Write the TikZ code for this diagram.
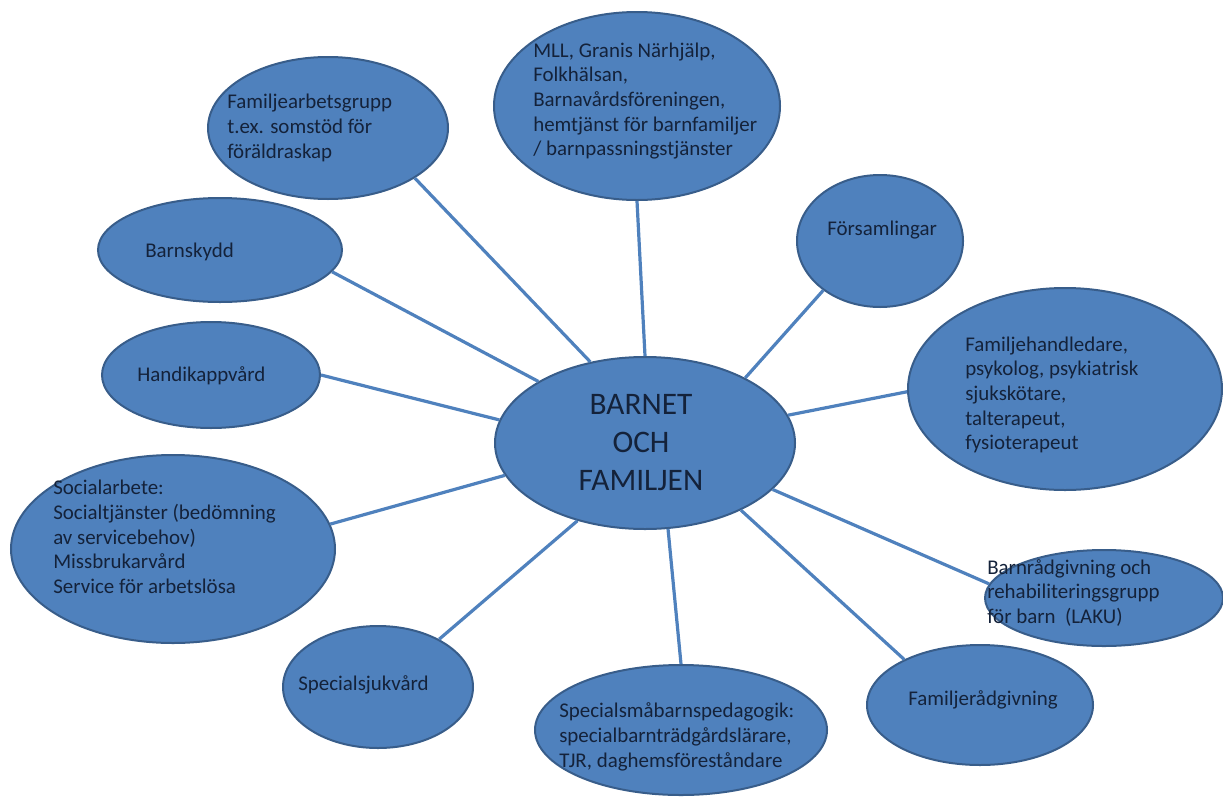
\documentclass[tikz,border=0pt]{standalone}
\usepackage{fontspec}
\setmainfont{Carlito}
\usetikzlibrary{shapes.geometric}

\definecolor{bubblefill}{HTML}{4F81BD}
\definecolor{bubblerim}{HTML}{385D8A}
\definecolor{spokeblue}{HTML}{4F81BD}
\definecolor{ink}{HTML}{14223A}

\tikzset{
  bubble/.style={ellipse,draw=bubblerim,line width=1.5pt,fill=bubblefill,inner sep=0pt},
  txt/.style={anchor=west,align=left,inner sep=0pt,text=ink,font=\fontsize{15.7}{18.5}\selectfont},
  spoke/.style={draw=spokeblue,line width=2.4pt}
}

\begin{document}
\begin{tikzpicture}[x=0.75pt,y=-0.75pt]
\useasboundingbox (0,0) rectangle (1223,796);

\node[bubble,minimum width=225pt,minimum height=129pt] (kern) at (645,443) {};
\node[bubble,minimum width=180pt,minimum height=106.5pt] (fam) at (328,128) {};
\node[bubble,minimum width=183pt,minimum height=78pt] (skydd) at (220,250) {};
\node[bubble,minimum width=214.5pt,minimum height=141pt] (mll) at (637,106) {};
\node[bubble,minimum width=124.5pt,minimum height=99pt] (fors) at (880,241) {};
\node[bubble,minimum width=235.5pt,minimum height=151.5pt] (handl) at (1065,389) {};
\node[bubble,minimum width=163.5pt,minimum height=79.5pt] (handi) at (211,375) {};
\node[bubble,minimum width=243pt,minimum height=141pt] (social) at (173,549) {};
\node[bubble,minimum width=142.5pt,minimum height=91.5pt] (sjuk) at (378,687) {};
\node[bubble,minimum width=219pt,minimum height=97.5pt] (spec) at (681,730) {};
\node[bubble,minimum width=169.5pt,minimum height=90pt] (radg) at (980,705) {};
\node[bubble,minimum width=178.5pt,minimum height=72pt] (barnr) at (1104,598) {};

\draw[spoke] (fam.-30) -- (kern.124);
\draw[spoke] (skydd.-11) -- (kern.150);
\draw[spoke] (mll.-90) -- (kern.90);
\draw[spoke] (fors.-139) -- (kern.33);
\draw[spoke] (handl.181) -- (kern.11);
\draw[spoke] (handi.0) -- (kern.171);
\draw[spoke] (social.9) -- (kern.193);
\draw[spoke] (sjuk.38) -- (kern.-131);
\draw[spoke] (spec.90) -- (kern.-75);
\draw[spoke] (radg.149) -- (kern.-35);
\draw[spoke] (barnr.173) -- (kern.-20);

\node[inner sep=0pt,align=center,text=ink,font=\fontsize{23.5}{28.5}\selectfont] (kerntxt) at (641,443) {BARNET\\OCH\\FAMILJEN};
\node[txt] (famtxt) at (227,128) {Familjearbetsgrupp\\t.ex. somstöd för\\föräldraskap};
\node[txt] (skyddtxt) at (145,252) {Barnskydd};
\node[txt] (mlltxt) at (533,101) {MLL, Granis Närhjälp,\\Folkhälsan,\\Barnavårdsföreningen,\\hemtjänst för barnfamiljer\\/ barnpassningstjänster};
\node[txt] (forstxt) at (827,230) {Församlingar};
\node[txt] (handltxt) at (965,395) {Familjehandledare,\\psykolog, psykiatrisk\\sjukskötare,\\talterapeut,\\fysioterapeut};
\node[txt] (handitxt) at (137,376) {Handikappvård};
\node[txt] (socialtxt) at (53,537) {Socialarbete:\\Socialtjänster (bedömning\\av servicebehov)\\Missbrukarvård\\Service för arbetslösa};
\node[txt] (sjuktxt) at (298,685) {Specialsjukvård};
\node[txt] (spectxt) at (559,737) {Specialsmåbarnspedagogik:\\specialbarnträdgårdslärare,\\TJR, daghemsföreståndare};
\node[txt] (radgtxt) at (908,700) {Familjerådgivning};
\node[txt] (barnrtxt) at (987,593) {Barnrådgivning och\\rehabiliteringsgrupp\\för barn~~(LAKU)};
\end{tikzpicture}
\end{document}
